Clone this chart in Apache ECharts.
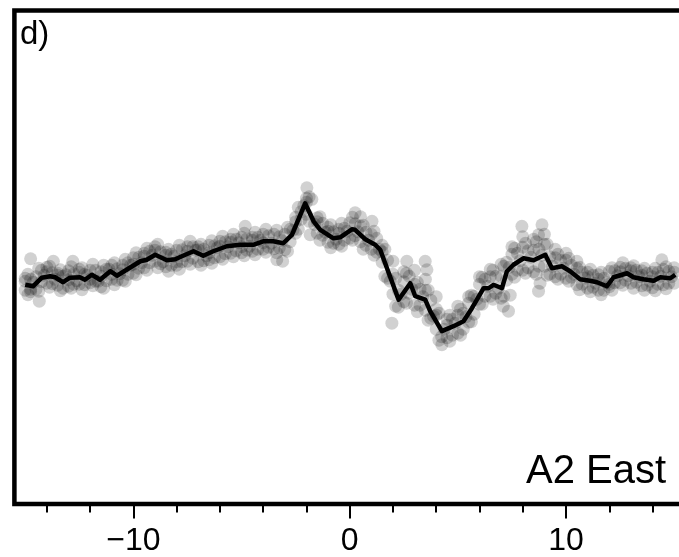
<!DOCTYPE html>
<html>
<head>
<meta charset="utf-8">
<script src="https://cdn.jsdelivr.net/npm/echarts@6/dist/echarts.min.js"></script>
<style>html,body{margin:0;padding:0;background:#fff;overflow:hidden;width:679px;height:557px}#c{width:700px;height:557px}</style>
</head>
<body>
<div id="c"></div>
<script>
// x-axis extent and ticks
const xMin = -15.5, xMax = 15.5;
const yMin = 0, yMax = 98.78;
const majorTicks = [-10, 0, 10];
const minorTicks = [-14, -12, -8, -6, -4, -2, 2, 4, 6, 8, 12, 14];
const tickLabels = {"-10": "\u221210", "0": "0", "10": "10"};
const panelLabel = "d)";
const stationLabel = "A2 East";

// black profile line [x, y]
const lineData = [
  [-15.00,43.9],[-14.63,43.6],[-14.23,45.3],[-13.85,45.6],[-13.62,45.4],[-13.25,44.4],
  [-12.93,45.3],[-12.47,45.4],[-12.24,44.9],[-11.92,45.9],[-11.54,44.9],[-11.07,46.6],
  [-10.76,45.7],[-10.24,47.1],[-9.68,48.6],[-9.38,48.9],[-8.99,49.9],[-8.45,48.8],
  [-8.07,49.0],[-7.60,49.9],[-7.22,50.6],[-6.77,49.7],[-6.31,50.6],[-5.68,51.6],
  [-5.06,51.9],[-4.46,51.9],[-4.00,52.6],[-3.54,52.6],[-3.07,52.2],[-2.67,53.9],
  [-2.06,60.2],[-1.67,56.6],[-1.36,54.9],[-0.75,53.2],[-0.44,53.4],[0.10,55.0],
  [0.25,54.9],[0.72,53.0],[1.18,51.9],[1.41,50.9],[2.26,40.9],[2.80,44.2],
  [3.03,41.6],[3.49,40.9],[3.72,38.6],[4.26,34.6],[4.80,35.6],[5.26,36.6],
  [5.65,39.2],[6.19,43.2],[6.42,43.2],[6.65,43.9],[7.04,43.2],[7.27,46.6],
  [7.57,47.9],[8.04,49.2],[8.50,48.8],[9.04,49.9],[9.35,47.2],[9.81,47.6],
  [10.19,46.6],[10.65,45.0],[11.11,44.7],[11.43,44.4],[11.89,43.6],[12.20,45.4],
  [12.82,46.2],[13.12,45.4],[13.58,45.0],[14.05,44.7],[14.36,45.4],[14.82,45.2],
  [15.05,45.9]
];

// grey data cloud [x, y]
const scatterData = [
  [-15,44.6],[-15,42.8],[-15,45.2],[-14.75,49.1],[-14.75,42.5],[-14.75,45.0],[-14.75,43.0],
  [-14.5,45.5],[-14.5,43.0],[-14.35,40.6],[-14.25,46.8],[-14.25,44.5],
  [-14,46.5],[-14,44.2],[-14,47.4],[-13.7,48.6],[-13.75,46.3],[-13.75,44.1],
  [-13.5,46.2],[-13.5,43.8],[-13.5,45.8],[-13.25,45.6],[-13.25,43.2],
  [-13,46.7],[-13,43.6],[-13,44.9],[-12.8,48.6],[-12.75,46.1],[-12.75,44.0],
  [-12.5,46.4],[-12.5,44.0],[-12.5,47.0],[-12.25,46.0],[-12.25,43.9],
  [-12,46.8],[-12,44.3],[-12,45.0],[-11.75,46.8],[-11.75,44.6],
  [-11.5,46.5],[-11.5,43.5],[-11.5,45.6],[-11.25,47.0],[-11.25,44.7],
  [-11,47.8],[-11,45.0],[-11,46.0],[-10.75,47.1],[-10.75,44.8],
  [-10.5,47.8],[-10.5,44.8],[-10.5,46.9],[-10.25,48.3],[-10.25,46.0],
  [-10,49.3],[-10,46.2],[-10,48.0],[-9.75,49.4],[-9.75,47.2],
  [-9.5,50.2],[-9.5,47.3],[-9.5,49.6],[-9.25,50.6],[-9.25,48.3],
  [-9,51.5],[-9,48.6],[-9,50.8],[-8.75,50.5],[-8.75,48.1],
  [-8.5,50.4],[-8.5,47.5],[-8.5,49.8],[-8.25,50.0],[-8.25,47.8],
  [-8,50.8],[-8,47.8],[-8,48.5],[-7.75,50.9],[-7.75,48.5],
  [-7.5,51.5],[-7.5,48.6],[-7.5,50.6],[-7.25,51.5],[-7.25,49.2],
  [-7,51.5],[-7,48.5],[-7,50.9],[-6.75,51.0],[-6.75,48.7],
  [-6.5,51.8],[-6.5,48.9],[-6.5,50.3],[-6.25,51.7],[-6.25,49.3],
  [-6,52.6],[-6,49.5],[-6,51.6],[-5.75,52.5],[-5.75,50.1],
  [-5.5,53.0],[-5.5,50.2],[-5.5,52.4],[-5.25,53.0],[-5.25,50.7],
  [-5,53.4],[-5,50.3],[-5,51.5],[-4.83,55.6],[-4.75,53.1],[-4.75,50.8],
  [-4.5,53.4],[-4.5,50.6],[-4.5,52.8],[-4.25,53.4],[-4.25,51.0],
  [-4,54.0],[-4,51.0],[-4,52.3],[-3.75,53.7],[-3.75,51.4],
  [-3.5,54.0],[-3.5,51.1],[-3.37,48.9],[-3.25,53.5],[-3.25,51.3],
  [-3,54.0],[-3,50.9],[-3.1,48.6],[-2.75,55.0],[-2.75,52.5],
  [-2.5,57.4],[-2.5,54.2],[-2.5,56.5],[-2.25,58.5],[-2.25,57.0],
  [-1.98,63.3],[-2,61.2],[-2,58.0],[-2,60.4],[-1.75,61.0],[-1.83,53.9],
  [-1.5,57.3],[-1.5,54.2],[-1.5,56.5],[-1.25,56.2],[-1.25,53.8],
  [-1,55.4],[-1,52.4],[-1,54.6],[-0.75,54.5],[-0.75,52.2],
  [-0.5,55.0],[-0.5,52.0],[-0.5,54.2],[-0.25,55.2],[-0.25,52.8],
  [0,56.3],[0,53.2],[0.25,58.3],[0.25,56.1],[0.25,53.7],
  [0.5,55.6],[0.5,52.5],[0.5,57.5],[0.75,54.4],[0.75,51.8],
  [1,54.0],[1,51.0],[1.03,56.6],[1.25,53.2],[1.25,50.4],
  [1.5,51.8],[1.5,48.4],[1.5,50.5],[1.75,48.8],[1.75,45.2],
  [2,46.0],[2,42.0],[2,48.6],[1.95,36.2],[2.25,42.8],[2.25,39.4],
  [2.5,44.5],[2.5,40.5],[2.64,48.6],[2.5,46.5],[2.75,45.6],[2.75,42.2],
  [3,44.0],[3,39.8],[3,46.8],[3.25,43.0],[3.25,39.8],
  [3.49,48.6],[3.57,46.9],[3.5,42.8],[3.5,38.8],[3.5,45.0],[3.75,40.8],[3.75,37.2],
  [4,39.0],[4,35.0],[4,41.5],[4,37.8],[4.26,31.9],[4.25,33.5],
  [4.5,37.0],[4.5,33.3],[4.5,35.8],[4.75,37.0],[4.75,33.8],
  [5,37.8],[5,34.2],[5,39.6],[5.25,38.2],[5.25,35.0],
  [5.5,40.2],[5.5,36.4],[5.5,41.5],[5.75,41.6],[5.75,38.0],
  [6,44.0],[6,40.0],[6,45.5],[6.25,45.0],[6.25,41.6],
  [6.5,45.5],[6.5,41.6],[6.5,47.0],[6.75,45.6],[6.75,42.2],
  [7,45.6],[7,41.2],[7,48.0],[7.1,39.6],[7.34,38.6],[7.25,48.4],[7.25,44.8],
  [7.5,50.0],[7.5,46.0],[7.5,51.5],[7.42,41.8],[7.75,50.2],[7.75,46.8],
  [8,51.4],[8,46.8],[7.96,55.6],[8,53.5],[8.25,50.7],[8.25,47.3],
  [8.5,50.8],[8.5,46.5],[8.5,53.0],[8.73,42.6],[8.8,44.2],[8.73,53.9],
  [8.75,51.0],[8.75,47.6],
  [9,52.0],[9,47.6],[8.89,55.9],[9,54.0],[9.25,49.5],[9.25,46.0],
  [9.5,49.3],[9.5,45.5],[9.5,51.0],[9.75,48.8],[9.75,46.0],
  [10,48.8],[10,45.2],[10,50.2],[10.25,47.8],[10.25,45.4],
  [10.5,47.2],[10.5,43.9],[10.5,48.6],[10.75,46.4],[10.75,44.0],
  [11,46.4],[11,43.2],[11,45.5],[11.25,45.8],[11.25,43.4],
  [11.5,45.9],[11.5,42.8],[11.5,45.0],[11.75,45.2],[11.75,42.8],
  [12,46.6],[12,43.5],[12,44.0],[12.25,46.7],[12.25,44.3],
  [12.5,47.4],[12.5,44.3],[12.5,46.5],[12.75,47.2],[12.75,44.8],
  [13,47.3],[13,44.2],[13,46.7],[13.25,46.8],[13.25,44.4],
  [13.5,46.7],[13.5,43.7],[13.5,45.8],[13.75,46.2],[13.75,43.8],
  [14,46.4],[14,43.3],[14,45.5],[14.25,46.4],[14.25,44.0],
  [14.5,47.0],[14.5,43.9],[14.43,48.9],[14.75,46.6],[14.75,44.2],
  [15,47.3],[15,44.2],[15,46.4],
  // wider envelope
  [-14.875,46.0],[-14.875,41.9],[-14.375,47.2],[-14.375,42.6],[-13.875,47.6],[-13.875,43.4],
  [-13.375,46.9],[-13.375,42.7],[-12.875,47.5],[-12.875,43.2],[-12.375,47.3],[-12.375,42.9],
  [-11.875,48.0],[-11.875,43.7],[-11.375,47.8],[-11.375,43.2],[-10.875,48.3],[-10.875,43.9],
  [-10.375,49.0],[-10.375,44.6],[-9.875,50.3],[-9.875,45.9],[-9.375,51.2],[-9.375,46.8],
  [-8.875,52.0],[-8.875,47.3],[-8.375,51.0],[-8.375,46.6],[-7.875,51.8],[-7.875,47.0],
  [-7.375,52.6],[-7.375,48.0],[-6.875,52.0],[-6.875,47.8],[-6.375,52.7],[-6.375,48.2],
  [-5.875,53.6],[-5.875,49.0],[-5.375,54.0],[-5.375,49.5],[-4.875,54.2],[-4.875,49.7],
  [-4.375,54.4],[-4.375,49.9],[-3.875,55.0],[-3.875,50.4],[-3.375,54.8],[-3.375,50.3],
  [-2.875,55.4],[-2.875,50.6],[-2.375,59.4],[-2.375,55.0],[-1.875,61.5],[-1.875,56.6],
  [-1.375,57.5],[-1.375,52.8],[-0.875,55.9],[-0.875,51.3],[-0.375,56.2],[-0.375,51.6],
  [0.125,57.4],[0.125,52.8],[0.625,55.8],[0.625,51.0],[1.125,54.6],[1.125,49.8],
  [1.625,51.0],[1.625,45.6],[2.125,45.2],[2.125,39.6],[2.625,46.2],[2.625,40.2],
  [3.125,44.4],[3.125,38.5],[3.625,42.8],[3.625,36.8],[4.125,38.2],[4.125,32.8],
  [4.625,37.8],[4.625,32.6],[5.125,39.0],[5.125,33.8],[5.625,41.8],[5.625,36.5],
  [6.125,45.4],[6.125,40.0],[6.625,46.8],[6.625,41.0],[7.125,47.6],[7.125,41.6],
  [7.625,51.2],[7.625,45.4],[8.125,52.2],[8.125,46.2],[8.625,52.5],[8.625,46.0],
  [9.125,52.0],[9.125,45.8],[9.625,50.0],[9.625,45.0],[10.125,49.2],[10.125,44.6],
  [10.625,47.4],[10.625,42.9],[11.125,47.0],[11.125,42.5],[11.625,46.4],[11.625,41.9],
  [12.125,47.3],[12.125,42.8],[12.625,48.3],[12.625,43.8],[13.125,47.7],[13.125,43.2],
  [13.625,47.2],[13.625,42.8],[14.125,47.2],[14.125,42.7],[14.625,47.5],[14.625,43.1],
  // close to the line
  [-14.625,44.4],[-14.125,45.8],[-13.625,45.0],[-13.125,45.9],[-12.625,44.7],[-12.125,45.8],
  [-11.625,44.6],[-11.125,47.0],[-10.625,46.1],[-10.125,47.8],[-9.625,48.3],[-9.125,49.8],
  [-8.625,48.5],[-8.125,49.6],[-7.625,49.7],[-7.125,50.8],[-6.625,49.7],[-6.125,51.3],
  [-5.625,51.5],[-5.125,52.3],[-4.625,51.6],[-4.125,52.8],[-3.625,52.2],[-3.125,52.7],
  [-2.625,54.8],[-2.125,59.7],[-1.625,56.0],[-1.125,54.4],[-0.625,53.0],[-0.125,54.6],
  [0.375,54.5],[0.875,52.8],[1.375,51.0],[1.875,44.6],[2.375,42.0],[2.875,43.0],
  [3.375,41.5],[3.875,37.6],[4.375,35.0],[4.875,36.2],[5.375,37.5],[5.875,41.0],
  [6.375,43.6],[6.875,43.2],[7.375,47.4],[7.875,48.7],[8.375,49.4],[8.875,49.8],
  [9.375,47.6],[9.875,47.2],[10.375,46.0],[10.875,45.2],[11.375,44.2],[11.875,44.3],
  [12.375,45.7],[12.875,45.7],[13.375,45.5],[13.875,44.6],[14.375,45.6],[14.875,45.5]
];

const FONT = 'Liberation Sans, Arial, Helvetica, sans-serif';
const chart = echarts.init(document.getElementById('c'), null, {renderer: 'canvas'});
chart.setOption({
  animation: false,
  backgroundColor: '#fff',
  grid: {
    left: 14.4, top: 10.6, width: 670.6, height: 493.9,
    show: true, borderColor: '#000', borderWidth: 4.5, backgroundColor: 'transparent'
  },
  xAxis: [
    {
      type: 'value', min: xMin, max: xMax, position: 'bottom',
      axisLine: {show: false},
      splitLine: {show: false},
      axisTick: {show: true, customValues: majorTicks, length: 14.5, lineStyle: {color: '#000', width: 2}},
      axisLabel: {
        show: true, customValues: majorTicks, margin: 21,
        fontSize: 32, color: '#000', fontFamily: FONT,
        formatter: v => tickLabels[String(v)] !== undefined ? tickLabels[String(v)] : String(v)
      }
    },
    {
      type: 'value', min: xMin, max: xMax, position: 'bottom', gridIndex: 0,
      axisLine: {show: false},
      splitLine: {show: false},
      axisTick: {show: true, customValues: minorTicks, length: 8.5, lineStyle: {color: '#000', width: 2}},
      axisLabel: {show: false}
    }
  ],
  yAxis: {type: 'value', min: yMin, max: yMax, show: false, splitLine: {show: false}},
  graphic: [
    {type: 'text', left: 20, top: 18, style: {text: panelLabel, fontSize: 33, fontFamily: FONT, fill: '#000'}},
    {type: 'text', left: 526, top: 452, style: {text: stationLabel, fontSize: 40, fontFamily: FONT, fill: '#000'}}
  ],
  series: [
    {
      type: 'scatter', data: scatterData, symbol: 'circle', symbolSize: 13,
      itemStyle: {color: '#000', opacity: 0.18}, silent: true, z: 2
    },
    {
      type: 'line', data: lineData, showSymbol: false, symbol: 'none',
      lineStyle: {color: '#000', width: 4.5, join: 'round'}, z: 3, silent: true
    }
  ]
});
</script>
</body>
</html>
